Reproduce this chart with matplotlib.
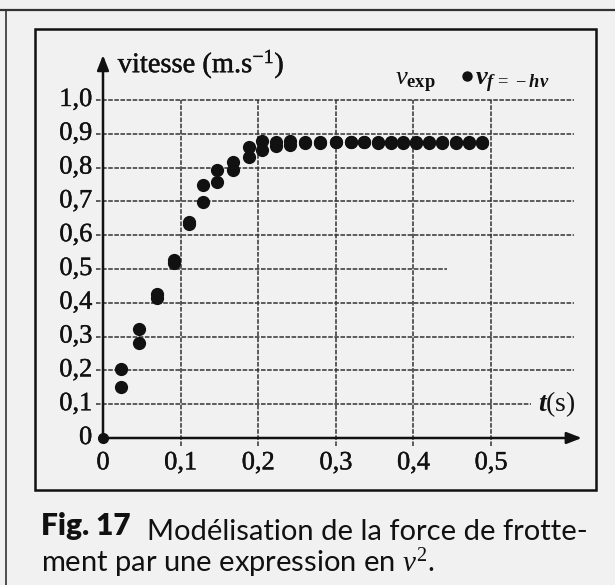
import matplotlib
matplotlib.use("Agg")
import matplotlib.pyplot as plt
import matplotlib.patheffects as pe
from matplotlib.patches import Rectangle
from matplotlib.lines import Line2D

plt.rcParams["mathtext.fontset"] = "custom"
plt.rcParams["mathtext.rm"] = "Liberation Serif"
plt.rcParams["mathtext.it"] = "Liberation Serif:italic"
plt.rcParams["mathtext.bf"] = "Liberation Serif:bold"
plt.rcParams["mathtext.bfit"] = "Liberation Serif:bold:italic"

# time samples (s) and the two velocity series (m/s)
t_s = [0.023, 0.047, 0.069, 0.091, 0.111, 0.129, 0.147, 0.167, 0.188, 0.205,
       0.223, 0.241, 0.260, 0.279, 0.300, 0.319, 0.336, 0.354, 0.371, 0.386,
       0.403, 0.420, 0.437, 0.455, 0.472, 0.489]
v_model = [0.205, 0.323, 0.425, 0.528, 0.638, 0.749, 0.794, 0.817, 0.860, 0.880,
           0.877, 0.878, 0.877, 0.877, 0.877, 0.877, 0.876, 0.876, 0.876, 0.876,
           0.875, 0.875, 0.875, 0.875, 0.875, 0.875]
v_exp = [0.151, 0.281, 0.413, 0.518, 0.634, 0.697, 0.757, 0.794, 0.831, 0.851,
         0.863, 0.868, 0.872, 0.873, 0.875, 0.875, 0.875, 0.874, 0.874, 0.874,
         0.874, 0.874, 0.874, 0.874, 0.874, 0.874]

x_ticks = [0.1, 0.2, 0.3, 0.4, 0.5]
y_ticks = [0.1, 0.2, 0.3, 0.4, 0.5, 0.6, 0.7, 0.8, 0.9, 1.0]
# right end of each horizontal grid line
y_grid_end = [0.552, 0.607, 0.607, 0.607, 0.443, 0.607, 0.607, 0.607, 0.607, 0.607]

W, H = 615, 585
BG = "#f1f1f1"
INK = "#111111"
GRID = "#333333"
SERIF = "Liberation Serif"
thick = [pe.withStroke(linewidth=0.3, foreground=INK)]

fig = plt.figure(figsize=(W / 100, H / 100), dpi=100, facecolor=BG)


def px(x, y):
    return x / W, 1 - y / H


# scanned page edges and the figure frame
fig.add_artist(Line2D([0, 1], [1 - 10 / H] * 2, color="#333333", lw=1.6))
fig.add_artist(Line2D([6 / W] * 2, [0, 1 - 10 / H], color="#333333", lw=1.2))
x0, y0 = px(35, 490)
x1, y1 = px(596, 29)
fig.add_artist(Rectangle((x0, y0), x1 - x0, y1 - y0, fill=False,
                         ec=INK, lw=1.8, transform=fig.transFigure))

# plot area: t = 0..0.5 and v = 0..1
ax_l, ax_b = px(103, 438)
ax_r, ax_t = px(491, 100)
ax = fig.add_axes([ax_l, ax_b, ax_r - ax_l, ax_t - ax_b])
ax.set_xlim(0, 0.5)
ax.set_ylim(0, 1)
ax.axis("off")

dash = (0, (3, 1))
tick_kw = dict(family=SERIF, fontsize=19, color=INK, path_effects=thick)
for y, xe in zip(y_ticks, y_grid_end):
    ax.plot([-0.009, xe], [y, y], color=GRID, lw=1.1, ls=dash, clip_on=False)
    ax.text(-0.014, y, f"{y:.1f}".replace(".", ","), ha="right", va="center", **tick_kw)
for x in x_ticks:
    ax.plot([x, x], [-0.025, 1.0], color=GRID, lw=1.1, ls=dash, clip_on=False)
    ax.text(x, -0.075, f"{x:.1f}".replace(".", ","), ha="center", va="center", **tick_kw)
ax.text(-0.014, 0, "0", ha="right", va="center", **tick_kw)
ax.text(0, -0.075, "0", ha="center", va="center", **tick_kw)

# axes with arrow heads
arrow = dict(arrowstyle="-|>,head_length=0.9,head_width=0.35", color=INK, lw=1.8,
             shrinkA=0, shrinkB=0)
ax.annotate("", xy=(0.617, 0), xytext=(0, 0), arrowprops=arrow, annotation_clip=False)
ax.annotate("", xy=(0, 1.133), xytext=(0, 0), arrowprops=arrow, annotation_clip=False)

ax.text(0.019, 1.105, r"vitesse (m.s$^{-1}$)", ha="left", va="center",
        family=SERIF, fontsize=20.5, color=INK, path_effects=thick)
ax.text(0.56, 0.10, r"$\mathbfit{t}$(s)", ha="left", va="center",
        family=SERIF, fontsize=20, color=INK)

# data points
ax.plot([0], [0], "o", color=INK, ms=7, clip_on=False)
ax.plot(t_s, v_exp, "o", color=INK, ms=8.5, clip_on=False)
ax.plot(t_s, v_model, "o", color=INK, ms=8.5, clip_on=False)

# legend drawn as text
ax.text(0.376, 1.044, r"$v_{\mathbf{exp}}$", ha="left", va="baseline",
        fontsize=19, color=INK)
ax.plot([0.469], [1.071], "o", color=INK, ms=6.5, clip_on=False)
ax.text(0.479, 1.044, r"$\mathbfit{v}_{\mathbfit{f}\,=\,-\mathbfit{hv}}$",
        ha="left", va="baseline", fontsize=19, color=INK)

# caption
cx, cy = px(41, 535)
fig_lbl = fig.text(cx, cy, "Fig. 17", ha="left", va="baseline", family="Lato",
                   fontweight="heavy", fontsize=21.5, color=INK)
plt.annotate("Modélisation de la force de frotte-", xy=(1, 0), xycoords=fig_lbl,
             xytext=(16, 0), textcoords="offset pixels", ha="left", va="baseline",
             family="Lato", fontsize=21, color=INK)
cx2, cy2 = px(41, 572)
fig.text(cx2, cy2, r"ment par une expression en $\mathit{v}^2$.", ha="left",
         va="baseline", family="Lato", fontsize=21, color=INK)

fig.savefig("out.png", dpi=100, facecolor=BG)
